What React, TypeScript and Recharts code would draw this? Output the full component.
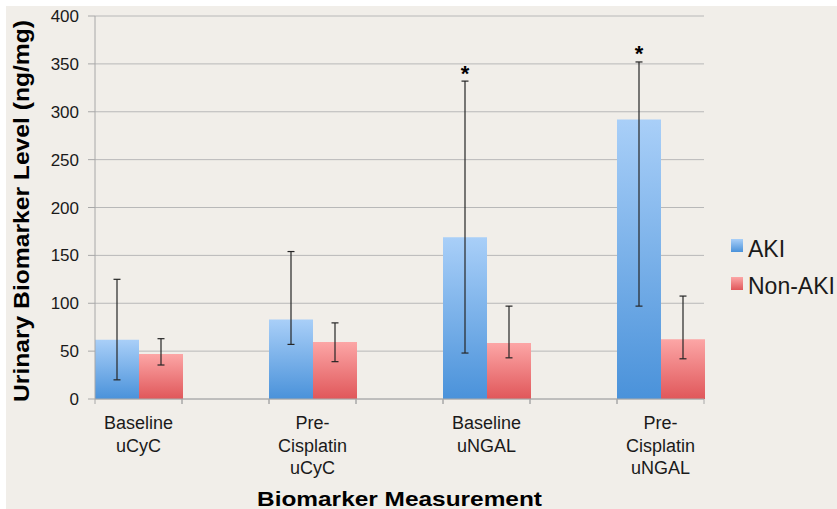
import { Bar, BarChart, CartesianGrid, ErrorBar, LabelList, Legend, XAxis, YAxis } from "recharts";

const measurements = ["Baseline\nuCyC", "Pre-\nCisplatin\nuCyC", "Baseline\nuNGAL", "Pre-\nCisplatin\nuNGAL"];
const akiMean = [62, 83, 169, 292];
const akiLow = [20, 57, 48, 97];
const akiHigh = [125, 154, 332, 352];
const nonAkiMean = [47, 59.5, 58.5, 62.5];
const nonAkiLow = [35.5, 39, 43, 42];
const nonAkiHigh = [63, 79.5, 97, 107.5];
const akiSignificant = [false, false, true, true];
const yTicks = [0, 50, 100, 150, 200, 250, 300, 350, 400];

const W = 837;
const H = 509;
const PLOT_LEFT = 95;
const PLOT_RIGHT = 704;
const BAND = (PLOT_RIGHT - PLOT_LEFT) / 7;
const FONT = "'Liberation Sans', Arial, Helvetica, sans-serif";
const INK = "#1a1a1a";
const AXIS = "#a8a8a8";

// excel layout: an empty category between each measurement, bars left-aligned
type Row = { name: string; aki?: number | null; akiErr?: number[]; nonAki?: number | null; nonAkiErr?: number[]; star?: boolean; high?: number };
const rows: Row[] = [];
measurements.forEach((m, i) => {
  rows.push({
    name: m,
    aki: akiMean[i],
    akiErr: [akiMean[i] - akiLow[i], akiHigh[i] - akiMean[i]],
    nonAki: nonAkiMean[i],
    nonAkiErr: [nonAkiMean[i] - nonAkiLow[i], nonAkiHigh[i] - nonAkiMean[i]],
    star: akiSignificant[i],
    high: akiHigh[i],
  });
  if (i < measurements.length - 1) rows.push({ name: " ".repeat(i + 1), aki: null, nonAki: null });
});

function XTick(props: any) {
  const { x, y, payload } = props;
  const lines = String(payload.value).split("\n").filter((s) => s.trim());
  return (
    <g>
      <line x1={x - BAND / 2} x2={x - BAND / 2} y1={y} y2={y + 5} stroke={AXIS} />
      <line x1={x + BAND / 2} x2={x + BAND / 2} y1={y} y2={y + 5} stroke={AXIS} />
      <text x={x} y={y + 30} textAnchor="middle" fontSize={18} fontFamily={FONT} fill={INK}>
        {lines.map((l, i) => (
          <tspan key={i} x={x} dy={i === 0 ? 0 : 22.5}>
            {l}
          </tspan>
        ))}
      </text>
    </g>
  );
}

function Star(props: any) {
  const vb = props.viewBox && props.viewBox.height != null ? props.viewBox : props;
  const { x, y, width, height } = vb;
  const value = Number(props.value);
  let idx = typeof props.index === "number" ? props.index : -1;
  if (idx < 0 || !rows[idx] || rows[idx].aki !== value) idx = rows.findIndex((r) => r.aki === value);
  const row = rows[idx];
  if (!row || !row.star || !value || height == null) return null;
  const ppu = Math.abs(height) / value;
  const base = Math.max(y, y + height);
  const yHigh = base - (row.high as number) * ppu;
  return (
    <text x={x + width / 2} y={yHigh - 0.5} textAnchor="middle" fontSize={22} fontWeight="bold" fontFamily={FONT} fill="#000">
      *
    </text>
  );
}

function LegendBox() {
  return (
    <svg width={110} height={75} style={{ overflow: "visible" }}>
      <defs>
        <linearGradient id="akiLeg" x1="0" y1="0" x2="0" y2="1">
          <stop offset="0%" stopColor="#a9cff8" />
          <stop offset="100%" stopColor="#4a92da" />
        </linearGradient>
        <linearGradient id="nonLeg" x1="0" y1="0" x2="0" y2="1">
          <stop offset="0%" stopColor="#fca6a6" />
          <stop offset="100%" stopColor="#e0575a" />
        </linearGradient>
      </defs>
      <rect x={0} y={9} width={12} height={13} fill="url(#akiLeg)" />
      <text x={17} y={27} fontSize={23} fontFamily={FONT} fill={INK}>AKI</text>
      <rect x={0} y={47} width={12} height={13} fill="url(#nonLeg)" />
      <text x={17} y={64} fontSize={23} fontFamily={FONT} fill={INK}>Non-AKI</text>
    </svg>
  );
}

export default function App() {
  return (
    <div style={{ position: "absolute", left: 0, top: 0, width: W, height: H, background: "#fff", overflow: "hidden" }}>
      <div style={{ position: "absolute", left: 6, top: 6, right: 0, bottom: 0, background: "#f1eee9" }} />
      <div style={{ position: "absolute", left: 0, top: 0 }}>
        <BarChart width={W} height={H} data={rows} margin={{ top: 16, right: W - PLOT_RIGHT, bottom: 0, left: 0 }} barCategoryGap={0} barGap={0}>
          <defs>
            <linearGradient id="akiGrad" x1="0" y1="0" x2="0" y2="1">
              <stop offset="0%" stopColor="#a9cff8" />
              <stop offset="100%" stopColor="#4a92da" />
            </linearGradient>
            <linearGradient id="nonGrad" x1="0" y1="0" x2="0" y2="1">
              <stop offset="0%" stopColor="#fca6a6" />
              <stop offset="100%" stopColor="#e0575a" />
            </linearGradient>
          </defs>
          <CartesianGrid vertical={false} stroke="#b8b8b8" />
          <XAxis
            dataKey="name"
            height={H - 399}
            interval={0}
            tickLine={false}
            tickSize={0}
            tickMargin={0}
            axisLine={{ stroke: AXIS }}
            tick={<XTick />}
            label={{
              content: () => (
                <text x={(PLOT_LEFT + PLOT_RIGHT) / 2} y={506} textAnchor="middle" fontSize={21} fontWeight="bold" fontFamily={FONT} fill="#000" textLength={285} lengthAdjust="spacingAndGlyphs">
                  Biomarker Measurement
                </text>
              ),
            }}
          />
          <YAxis
            width={PLOT_LEFT}
            domain={[0, 400]}
            ticks={yTicks}
            interval={0}
            tickSize={7}
            tickMargin={9}
            tickLine={{ stroke: AXIS }}
            axisLine={{ stroke: AXIS }}
            tick={{ fontSize: 17, fontFamily: FONT, fill: INK }}
            label={{
              content: () => (
                <text transform="translate(29, 211) rotate(-90)" textAnchor="middle" fontSize={22} fontWeight="bold" fontFamily={FONT} fill="#000" textLength={382} lengthAdjust="spacingAndGlyphs">
                  Urinary Biomarker Level (ng/mg)
                </text>
              ),
            }}
          />
          <Legend layout="vertical" align="center" verticalAlign="middle" content={() => <LegendBox />} wrapperStyle={{ left: 731, top: 230, width: 110 }} />
          <Bar dataKey="aki" name="AKI" fill="url(#akiGrad)" isAnimationActive={false}>
            <ErrorBar dataKey="akiErr" width={3.5} stroke="#262626" strokeWidth={1.2} direction="y" />
            <LabelList dataKey="aki" content={(p: any) => <Star {...p} />} />
          </Bar>
          <Bar dataKey="nonAki" name="Non-AKI" fill="url(#nonGrad)" isAnimationActive={false}>
            <ErrorBar dataKey="nonAkiErr" width={3.5} stroke="#262626" strokeWidth={1.2} direction="y" />
          </Bar>
        </BarChart>
      </div>
    </div>
  );
}
